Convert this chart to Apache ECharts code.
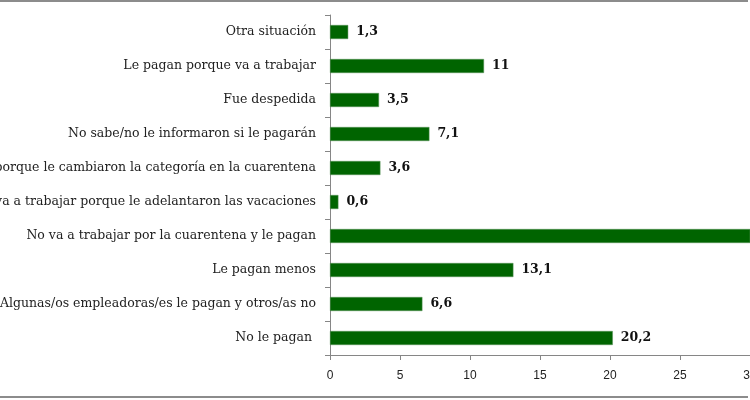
<!DOCTYPE html>
<html lang="es">
<head>
    <meta charset="UTF-8">
    <title>Situación de pago</title>
    <script src="https://cdn.jsdelivr.net/npm/echarts@6/dist/echarts.min.js"></script>
    <style>
        html,body{
            margin: 0;
            padding: 0;
            background: #fff;
        }
        #wrap{
            position: relative;
            width: 750px;
            height: 400px;
            overflow: hidden;
        }
        #main{
            width: 750px;
            height: 400px;
        }
        .rule{
            position: absolute;
            left: 0;
            width: 748px;
            height: 2px;
            background: #8c8c8c;
        }
    </style>
</head>
<body>
<div id="wrap">
    <div class="rule" style="top:0"></div>
    <div id="main"></div>
    <div class="rule" style="top:396px"></div>
</div>
<script>
    //categorías de arriba hacia abajo
    var categories=[
        'Otra situación',
        'Le pagan porque va a trabajar',
        'Fue despedida',
        'No sabe/no le informaron si le pagarán',
        'No va a trabajar porque le cambiaron la categoría en la cuarentena',
        'No va a trabajar porque le adelantaron las vacaciones',
        'No va a trabajar por la cuarentena y le pagan',
        'Le pagan menos',
        'Algunas/os empleadoras/es le pagan y otros/as no',
        'No le pagan '
    ];
    var values=[1.3, 11, 3.5, 7.1, 3.6, 0.6, 33.0, 13.1, 6.6, 20.2];
    var xTicks=[0, 5, 10, 15, 20, 25, 30];

    var chart=echarts.init(document.getElementById('main'));
    var option={
        animation:false,
        grid:{
            left:330,
            right:0,
            top:15,
            bottom:45,
            containLabel:false,
            outerBoundsMode:'none'
        },
        xAxis:{
            type:'value',
            min:xTicks[0],
            max:xTicks[xTicks.length-1],
            interval:5,
            splitLine:{show:false},
            axisLine:{show:true,lineStyle:{color:'#868686'}},
            axisTick:{show:true,length:5,lineStyle:{color:'#868686'}},
            axisLabel:{
                margin:15,
                color:'#222',
                fontFamily:'Liberation Sans',
                fontSize:12
            }
        },
        yAxis:{
            type:'category',
            inverse:true,
            data:categories,
            axisLine:{lineStyle:{color:'#868686'}},
            axisTick:{show:true,length:5,lineStyle:{color:'#868686'}},
            axisLabel:{
                margin:14,
                color:'#222',
                fontFamily:'DejaVu Serif',
                fontSize:12.5
            }
        },
        series:[{
            type:'bar',
            data:values,
            barWidth:14,
            clip:true,
            itemStyle:{
                color:'#006400',
                borderColor:'#5a935a',
                borderWidth:0.5
            },
            label:{
                show:true,
                position:'right',
                distance:8,
                color:'#111',
                fontFamily:'DejaVu Serif',
                fontWeight:'bold',
                fontSize:12.5,
                formatter:function (p) {
                    return String(p.value).replace('.',',');
                }
            }
        }]
    };
    chart.setOption(option);
</script>
</body>
</html>
